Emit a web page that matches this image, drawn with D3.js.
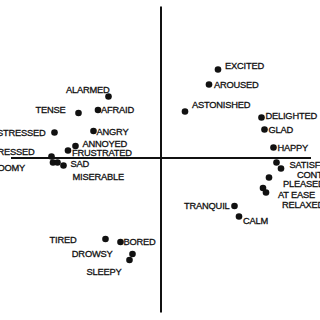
<!DOCTYPE html>
<html>
<head>
<meta charset="utf-8">
<script src="https://cdn.jsdelivr.net/npm/d3@7"></script>
<style>
  html, body { margin: 0; padding: 0; background: #fff; }
  svg { display: block; }
  .lbl { font-family: "Liberation Sans", Arial, sans-serif; font-size: 9.3px; letter-spacing: -0.2px; fill: #111; stroke: #111; stroke-width: 0.3px; }
</style>
</head>
<body>
<svg id="chart" width="320" height="320"></svg>
<script>
// affect words and their (pleasure, arousal) positions
const words = ['ALARMED','TENSE','AFRAID','DISTRESSED','ANGRY','ANNOYED','FRUSTRATED','DEPRESSED','GLOOMY','MISERABLE','SAD',
  'EXCITED','AROUSED','ASTONISHED','DELIGHTED','GLAD','HAPPY','SATISFIED','CONTENT','PLEASED','AT EASE','RELAXED','TRANQUIL','CALM',
  'TIRED','BORED','DROWSY','SLEEPY'];
const pleasure = [-0.35,-0.55,-0.42,-0.71,-0.45,-0.57,-0.62,-0.73,-0.72,-0.69,-0.65,
  0.38,0.32,0.16,0.67,0.69,0.75,0.77,0.80,0.72,0.68,0.70,0.49,0.52,
  -0.37,-0.27,-0.19,-0.21];
const arousal = [0.41,0.30,0.32,0.17,0.18,0.08,0.05,0.01,-0.03,-0.03,-0.05,
  0.59,0.49,0.31,0.27,0.19,0.07,-0.03,-0.07,-0.13,-0.20,-0.23,-0.32,-0.39,
  -0.54,-0.56,-0.64,-0.68];

// label placement relative to the dot: [anchor, dx, dy]
const labelPos = {
  'ALARMED': ['end', 1, -7], 'TENSE': ['end', -13, -3], 'AFRAID': ['start', 3, 0],
  'DISTRESSED': ['end', -9, 0], 'ANGRY': ['start', 3, 1], 'ANNOYED': ['start', 7, -2],
  'FRUSTRATED': ['start', 4, 2], 'DEPRESSED': ['end', -17, -5], 'GLOOMY': ['end', -28, 5],
  'MISERABLE': ['start', 15, 14], 'SAD': ['start', 7, -2],
  'EXCITED': ['start', 7, -4], 'AROUSED': ['start', 5, 0], 'ASTONISHED': ['start', 7, -7],
  'DELIGHTED': ['start', 4, -2], 'GLAD': ['start', 4, 0], 'HAPPY': ['start', 4, 0],
  'SATISFIED': ['start', 13, 2], 'CONTENT': ['start', 16, 6], 'PLEASED': ['start', 14, 6],
  'AT EASE': ['start', 15, 7], 'RELAXED': ['start', 16, 12], 'TRANQUIL': ['end', -5, 0],
  'CALM': ['start', 4, 4], 'TIRED': ['end', -29, 1], 'BORED': ['start', 3, 0],
  'DROWSY': ['end', -20, 0], 'SLEEPY': ['end', -8, 12]
};

const data = words.map((w, i) => ({name: w, x: pleasure[i], y: arousal[i]}));

const x = d3.scaleLinear().domain([-1, 1]).range([11, 311]);
const y = d3.scaleLinear().domain([-1, 1]).range([308, 8]);

const svg = d3.select('#chart');

// axes
svg.append('line')
  .attr('x1', x(-1)).attr('x2', x(1))
  .attr('y1', y(0)).attr('y2', y(0))
  .attr('stroke', '#111').attr('stroke-width', 2);
svg.append('line')
  .attr('x1', x(0)).attr('x2', x(0))
  .attr('y1', y(1.01)).attr('y2', y(-1.03))
  .attr('stroke', '#111').attr('stroke-width', 2);

// points
svg.selectAll('circle')
  .data(data)
  .enter()
  .append('circle')
  .attr('cx', d => x(d.x))
  .attr('cy', d => y(d.y))
  .attr('r', 3.3)
  .attr('fill', '#111');

// labels
svg.selectAll('text.lbl')
  .data(data)
  .enter()
  .append('text')
  .attr('class', 'lbl')
  .attr('text-anchor', d => labelPos[d.name][0])
  .attr('x', d => x(d.x) + labelPos[d.name][1])
  .attr('y', d => y(d.y) + labelPos[d.name][2] + 3.4)
  .text(d => d.name);
</script>
</body>
</html>
